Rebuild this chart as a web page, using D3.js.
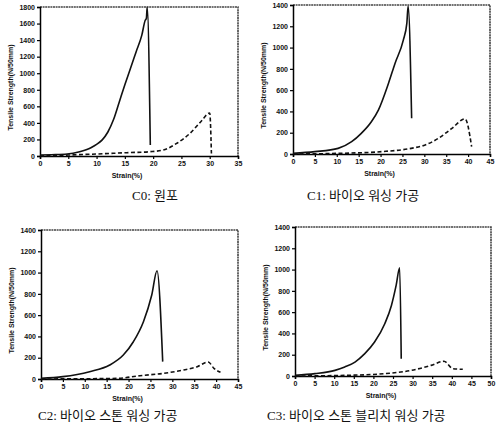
<!DOCTYPE html>
<html>
<head>
<meta charset="utf-8">
<script src="https://cdn.jsdelivr.net/npm/d3@7/dist/d3.min.js"></script>
<style>
  body { margin: 0; background: #fff; }
  svg text { fill: #111; }
  .tick text { font-family: "Liberation Sans", Arial, sans-serif; font-size: 7px; font-weight: bold; }
  .ttl { font-family: "Liberation Sans", Arial, sans-serif; font-size: 7px; font-weight: bold; }
  .cap { font-family: "Liberation Serif", "Noto Sans CJK KR", serif; font-size: 13px; }
</style>
</head>
<body>
<svg id="chart" width="500" height="439"></svg>
<script>
// panel captions
const captions = ['C0: 원포', 'C1: 바이오 워싱 가공', 'C2: 바이오 스톤 워싱 가공', 'C3: 바이오 스톤 블리치 워싱 가공'];

// axis maxima / ticks
const xMax = [35, 45, 45, 50];
const yMax = [1800, 1400, 1400, 1400];

// solid curves  [strain %, N/50mm]
const c0Solid = [[0,12],[2,16],[4.8,24],[7,52],[9,100],[10,140],[11,195],[12,290],[13,440],[14,650],[15,860],[16,1060],[17,1260],[18,1460],[18.6,1640],[18.8,1660],[18.95,1800],[19.5,132]];
const c1Solid = [[0,6],[5,22],[10.3,53],[13.4,116],[15.6,194],[17.9,303],[19.5,413],[21.8,663],[23.3,851],[25.2,1070],[26,1227],[26.3,1390],[27.1,335]];
const c2Solid = [[0,6],[5,22],[11.1,69],[15.7,131],[18.8,225],[21.1,350],[23.4,538],[25.3,789],[26.5,1017],[27.8,163]];
const c3Solid = [[0,6],[5.1,22],[10.2,53],[12.7,85],[15.3,131],[17.8,210],[20.3,319],[22.9,491],[24.6,663],[25.8,851],[26.7,1017],[27.1,163]];

// dashed curves
const c0Dash = [[0,0],[5,12],[10,24],[15.3,40],[19.4,52],[21.8,72],[24.1,150],[26.5,273],[28.5,420],[30,520],[30.3,30]];
const c1Dash = [[0,0],[10.3,6],[20.2,22],[27,53],[30.2,85],[33.2,147],[36.3,241],[39.3,330],[40.8,69]];
const c2Dash = [[0,0],[17.3,6],[22.6,31],[28,53],[32.6,85],[35.7,116],[38.2,160],[39.5,100],[41,63]];
const c3Dash = [[0,0],[12.7,6],[22.9,22],[29.7,53],[34.7,100],[38,138],[40.3,69],[42.8,63]];

const solids = [c0Solid, c1Solid, c2Solid, c3Solid];
const dashes = [c0Dash, c1Dash, c2Dash, c3Dash];

// plot boxes: left, top, right, bottom
const boxes = [
  { l: 40, t: 7, r: 238, b: 156 },
  { l: 293, t: 5, r: 490, b: 154 },
  { l: 41, t: 230, r: 238, b: 379 },
  { l: 295, t: 227, r: 491, b: 376 }
];
const capPos = [[132, 200], [307, 200], [38, 420], [267, 420]];

const svg = d3.select('#chart');

boxes.forEach((bx, i) => {
  const x = d3.scaleLinear().domain([0, xMax[i]]).range([bx.l, bx.r]);
  const y = d3.scaleLinear().domain([0, yMax[i]]).range([bx.b, bx.t]);
  const g = svg.append('g');

  // top/right frame (scanned, greyish)
  g.append('path')
    .attr('d', `M${bx.l},${bx.t}H${bx.r}V${bx.b}`)
    .attr('fill', 'none').attr('stroke', '#444').attr('stroke-width', 1.6)
    .attr('stroke-dasharray', '2,0.6');

  g.append('g')
    .attr('transform', `translate(0,${bx.b})`)
    .call(d3.axisBottom(x).ticks(xMax[i] / 5).tickFormat(d3.format('d')).tickSize(3).tickPadding(2))
    .call(a => a.select('.domain').attr('stroke-width', 1.5))
    .call(a => a.selectAll('line').attr('stroke-width', 1.2));

  g.append('g')
    .attr('transform', `translate(${bx.l},0)`)
    .call(d3.axisLeft(y).ticks(yMax[i] / 200).tickFormat(d3.format('d')).tickSize(3).tickPadding(2))
    .call(a => a.select('.domain').attr('stroke-width', 1.5))
    .call(a => a.selectAll('line').attr('stroke-width', 1.2));

  g.append('text').attr('class', 'ttl')
    .attr('x', (bx.l + bx.r) / 2 - 12).attr('y', bx.b + 22)
    .attr('text-anchor', 'middle').text('Strain(%)');

  g.append('text').attr('class', 'ttl')
    .attr('transform', `translate(${bx.l - 27},${(bx.t + bx.b) / 2 + 6}) rotate(-90)`)
    .attr('text-anchor', 'middle').text('Tensile Strength(N/50mm)');

  const line = d3.line().x(d => x(d[0])).y(d => y(d[1])).curve(d3.curveMonotoneX);

  g.append('path').datum(solids[i])
    .attr('d', line).attr('fill', 'none')
    .attr('stroke', '#111').attr('stroke-width', 1.6).attr('stroke-linejoin', 'round');

  g.append('path').datum(dashes[i])
    .attr('d', line).attr('fill', 'none')
    .attr('stroke', '#111').attr('stroke-width', 1.6).attr('stroke-dasharray', '4,2.5');

  svg.append('text').attr('class', 'cap')
    .attr('x', capPos[i][0]).attr('y', capPos[i][1]).text(captions[i]);
});
</script>
</body>
</html>
